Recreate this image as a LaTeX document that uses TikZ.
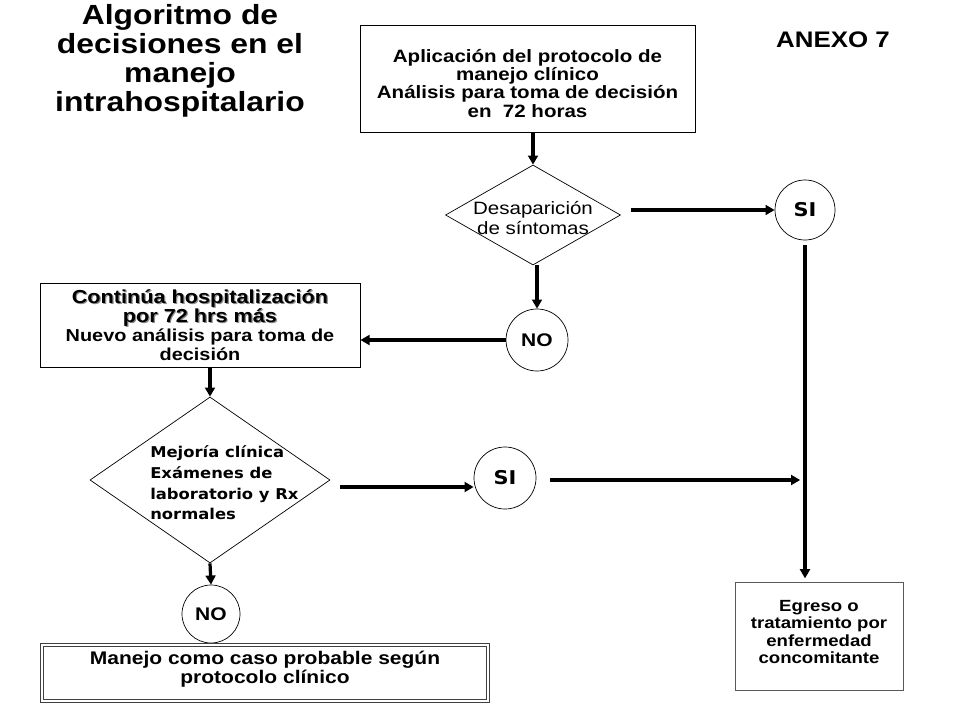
\documentclass[tikz,border=0pt]{standalone}
\usepackage{fontspec}
\setmainfont{Liberation Sans}[FakeStretch=1.15]
\newfontfamily\verdana{DejaVu Sans}[FakeStretch=1.1]
\usetikzlibrary{shapes.geometric, positioning, arrows.meta, calc}
\newcommand{\sombra}[1]{\leavevmode\rlap{\textcolor{black!45}{\kern0.8pt\raisebox{-0.8pt}{#1}}}#1}
\tikzset{
>={Triangle[length=6.5pt,width=7pt]}, % small solid arrow heads
node distance=2cm, % base distance, fine tuned with shifts below
flecha/.style={->, line width=2.3pt}, % thick connectors
caja/.style={draw, line width=0.6pt, align=center, inner sep=2pt}, % process boxes
decision/.style={diamond, draw, line width=0.5pt, inner sep=0pt}, % questions
circulo/.style={circle, draw, line width=0.5pt, inner sep=0pt, minimum size=1.5cm}, % yes / no
}

\begin{document}
\begin{tikzpicture}
      \useasboundingbox (0,0) rectangle (24,18);
      \node[font=\bfseries\fontsize{19.7}{20.7}\selectfont, align=center] (titulo) at (4.5,16.475)
        {Algoritmo de\\decisiones en el\\manejo\\intrahospitalario};
      \node[font=\bfseries\fontsize{16}{16}\selectfont] (anexo) at (20.825,17.0) {ANEXO 7};

      \node[caja, minimum width=8.375cm, minimum height=2.675cm] (apl) at (13.1875,16.0375) {};
      \node[align=center, font=\bfseries\fontsize{12.7}{13}\selectfont] (apltxt) at ([yshift=-0.12cm]apl.center)
        {Aplicación del protocolo de\\manejo clínico\\Análisis para toma de decisión\\en~ 72 horas};
      \node[decision, minimum width=4.375cm, minimum height=2.5cm, below of=apl, yshift=-1.4125cm, xshift=0.1375cm] (d1) {};
      \node[align=center, font=\fontsize{12.7}{14}\selectfont, yshift=-0.075cm] (d1txt) at (d1) {Desaparición\\de síntomas};
      \node[circulo, right of=d1, xshift=4.8cm, yshift=0.125cm, font=\verdana\bfseries\fontsize{13.5}{13.5}\selectfont] (si1) {SI};
      \node[circulo, minimum size=1.55cm, below of=d1, yshift=-1.125cm, xshift=0.1cm, font=\bfseries\fontsize{13}{13}\selectfont] (no1) {NO};
      \node[caja, minimum width=8cm, minimum height=2.1cm, left of=no1, xshift=-6.425cm, yshift=0.375cm, font=\bfseries\fontsize{13.4}{13.5}\selectfont] (cont)
        {\sombra{Continúa hospitalización}\\\sombra{por 72 hrs más}\\{\fontsize{12.3}{12}\selectfont Nuevo análisis para toma de}\\{\fontsize{12.3}{12}\selectfont decisión}};
      \node[decision, minimum width=6cm, minimum height=4.15cm, below of=cont, yshift=-1.875cm, xshift=0.25cm] (d2) {};
      \node[align=left, anchor=west, inner sep=0pt, font=\verdana\bfseries\fontsize{10.6}{14.7}\selectfont] (d2txt) at ([xshift=-1.5cm,yshift=-0.075cm]d2.center)
        {Mejoría clínica\\Exámenes de\\laboratorio y Rx\\normales};
      \node[circulo, minimum size=1.55cm, right of=d2, xshift=5.375cm, yshift=0.05cm, font=\verdana\bfseries\fontsize{13.5}{13.5}\selectfont] (si2) {SI};
      \node[circulo, minimum size=1.45cm, below of=d2, yshift=-1.35cm, xshift=0.025cm, font=\bfseries\fontsize{13}{13}\selectfont] (no2) {NO};
      \node[caja, draw=black!75, double=white, double distance=1.5pt, minimum width=11.15cm, minimum height=1.4cm, below of=no2, yshift=0.525cm, xshift=1.35cm] (manejo) {};
      \node[align=center, font=\bfseries\fontsize{13}{13.5}\selectfont] (manejotxt) at ([yshift=0.1cm]manejo.center)
        {Manejo como caso probable según\\protocolo clínico};
      \node[caja, draw=black!65, minimum width=4.2cm, minimum height=2.7cm, below of=si1, yshift=-8.65cm, xshift=0.35cm] (egreso) {};
      \node[align=center, font=\bfseries\fontsize{11.5}{12.5}\selectfont] (egresotxt) at ([yshift=0.1cm]egreso.center)
        {Egreso o\\tratamiento por\\enfermedad\\concomitante};

      \coordinate (c6) at ([yshift=-0.175cm]d2.east);
      \coordinate (c7) at ([yshift=-0.05cm]si2.east);
      \draw[flecha] (apl.south -| d1.north) -- (d1.north);
      \draw[flecha, shorten <=0.25cm] (d1.east |- si1.west) -- (si1.west);
      \draw[flecha] (d1.south -| no1.north) -- (no1.north);
      \draw[flecha] (no1.west) -- (no1.west -| cont.east);
      \draw[flecha] (cont.south -| d2.north) -- (d2.north);
      \draw[flecha, shorten <=0.25cm] (c6) -- (c6 -| si2.west);
      \draw[flecha, shorten <=0.35cm, shorten >=0.12cm] (c7) -- (c7 -| si1.south);
      \draw[flecha, shorten <=0.12cm, shorten >=0.08cm] (si1.south) -- (si1.south |- egreso.north);
      \draw[flecha] (d2.south) -- (no2.north);
\end{tikzpicture}
\end{document}
